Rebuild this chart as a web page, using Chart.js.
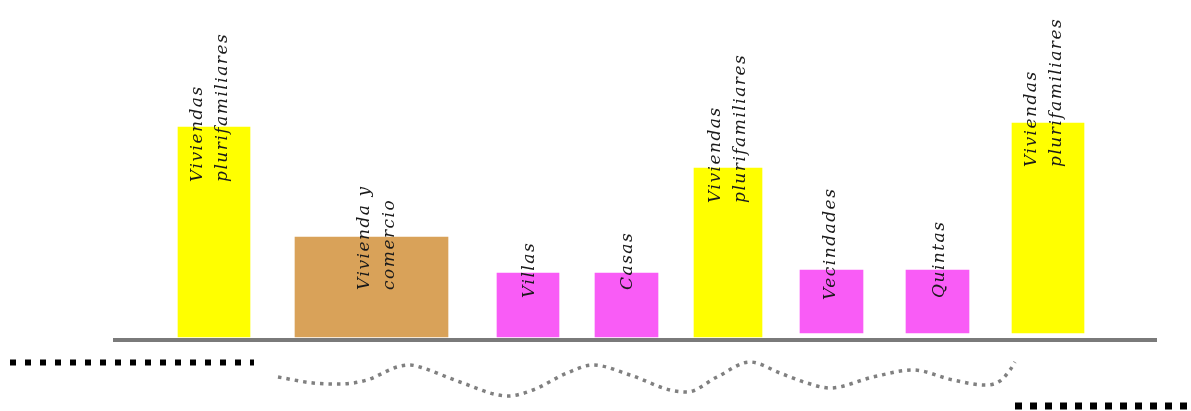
<!DOCTYPE html>
<html>
<head>
<meta charset="utf-8">
<script src="https://cdn.jsdelivr.net/npm/chart.js@4"></script>
<style>
  html, body { margin: 0; padding: 0; background: #ffffff; }
  #wrap { width: 1191px; height: 411px; position: relative; }
</style>
</head>
<body>
<div id="wrap"><canvas id="c"></canvas></div>
<script>
// ---- data ----
const categories = [
  ["Viviendas", "plurifamiliares"],
  ["Vivienda y", "comercio"],
  ["Villas"],
  ["Casas"],
  ["Viviendas", "plurifamiliares"],
  ["Vecindades"],
  ["Quintas"],
  ["Viviendas", "plurifamiliares"]
];
const barStart  = [178, 295, 497, 595, 694, 800, 906, 1012];
const barEnd    = [250, 448, 559, 658, 762, 863, 969, 1084];
const barBase   = [0, 0, 0, 0, 0, 4, 4, 4];
const barTop    = [210, 100, 64, 64, 169, 67, 67, 214];
const barKind   = ["yellow", "brown", "pink", "pink", "yellow", "pink", "pink", "yellow"];

const baselineX = [113, 1157];
const baselineY = [-3, -3];

const dotsLeftX  = [10, 254];
const dotsLeftY  = [-25.5, -25.5];
const dotsRightX = [1015, 1191];
const dotsRightY = [-69, -69];

const waveX = [278, 313, 340, 367, 397, 410, 423, 460, 508, 533, 567, 593, 630, 670, 687, 717, 750, 780, 807, 830, 873, 913, 953, 985, 1000, 1010, 1015];
const waveY = [-40, -46, -47, -43, -30, -28, -31, -45, -59, -53, -36, -28, -38, -53, -55, -40, -25, -36, -46, -51, -40, -33, -43, -48, -44, -33, -25];

// ---- styles ----
const palette = { yellow: "#FFFF00", brown: "#D9A259", pink: "#F95CF6" };
const labelStyle = {
  offsetBelowTop: [55, 53, 25, 17, 35, 30, 28, 44],
  shiftX: [-4, 6, 2, 1, 0, -1, 2, -4],
  lineGap: 25,
  font: "italic 17px 'DejaVu Serif'",
  color: "#1a1a1a"
};

const zip = (xs, ys) => xs.map((x, i) => ({ x: x, y: ys[i] }));

const datasets = [];
categories.forEach((cat, i) => {
  datasets.push({
    type: "bar",
    label: cat.join(" "),
    data: [{ x: (barStart[i] + barEnd[i]) / 2, y: [barBase[i], barTop[i]] }],
    backgroundColor: palette[barKind[i]],
    borderWidth: 0,
    barThickness: barEnd[i] - barStart[i],
    grouped: false,
    order: 2
  });
});
datasets.push({
  type: "line", label: "base", data: zip(baselineX, baselineY),
  borderColor: "#7a7a7a", borderWidth: 4, pointRadius: 0, tension: 0, order: 1
});
datasets.push({
  type: "line", label: "dotsL", data: zip(dotsLeftX, dotsLeftY),
  borderColor: "#000000", borderWidth: 6, borderDash: [6, 9], borderCapStyle: "butt",
  pointRadius: 0, tension: 0, order: 1
});
datasets.push({
  type: "line", label: "dotsR", data: zip(dotsRightX, dotsRightY),
  borderColor: "#000000", borderWidth: 7, borderDash: [7, 8], borderCapStyle: "butt",
  pointRadius: 0, tension: 0, order: 1
});
datasets.push({
  type: "line", label: "wave", data: zip(waveX, waveY),
  borderColor: "#808080", borderWidth: 3.5, borderDash: [3.5, 5], borderCapStyle: "butt",
  pointRadius: 0, tension: 0.4, cubicInterpolationMode: "monotone", order: 1
});

const barLabels = {
  id: "barLabels",
  afterDatasetsDraw(chart) {
    const ctx = chart.ctx;
    ctx.save();
    ctx.font = labelStyle.font;
    ctx.fillStyle = labelStyle.color;
    ctx.textAlign = "left";
    ctx.textBaseline = "middle";
    try { ctx.letterSpacing = "1.5px"; } catch (e) {}
    categories.forEach((lines, i) => {
      const el = chart.getDatasetMeta(i).data[0];
      if (!el) return;
      const cx = el.x + labelStyle.shiftX[i];
      const startY = el.y + labelStyle.offsetBelowTop[i];
      const n = lines.length;
      lines.forEach((t, j) => {
        const lx = cx + (j - (n - 1) / 2) * labelStyle.lineGap;
        ctx.save();
        ctx.translate(lx, startY);
        ctx.rotate(-Math.PI / 2);
        ctx.fillText(t, 0, 0);
        ctx.restore();
      });
    });
    ctx.restore();
  }
};

new Chart(document.getElementById("c"), {
  type: "bar",
  data: { datasets: datasets },
  options: {
    responsive: true,
    maintainAspectRatio: false,
    animation: false,
    layout: { padding: 0 },
    plugins: { legend: { display: false }, tooltip: { enabled: false } },
    scales: {
      x: { type: "linear", min: 0, max: 1191, display: false, offset: false },
      y: { type: "linear", min: -74, max: 337, display: false }
    }
  },
  plugins: [barLabels]
});
</script>
</body>
</html>
